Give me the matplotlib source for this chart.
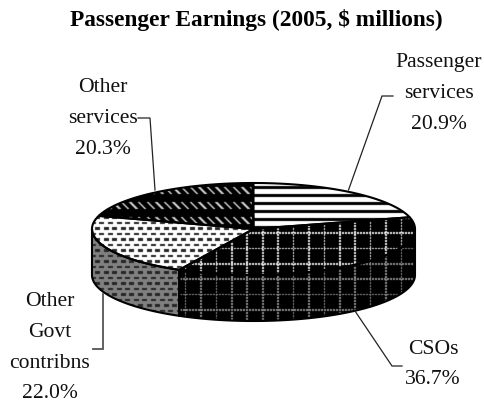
import numpy as np
import matplotlib
matplotlib.use("Agg")
import matplotlib.pyplot as plt
from matplotlib.patches import Polygon

TITLE = "Passenger Earnings (2005, $ millions)"
categories = ["Passenger services", "CSOs", "Other Govt contribns", "Other services"]
shares = [20.9, 36.7, 22.0, 20.3]
label_lines = [["Passenger", "services", "20.9%"],
               ["CSOs", "36.7%"],
               ["Other", "Govt", "contribns", "22.0%"],
               ["Other", "services", "20.3%"]]

W, H = 485, 403
CX, CY, RX, RY, DEPTH = 253.5, 229.0, 161.5, 46.0, 46.0
START = 90.0
yy, xx = np.mgrid[0:H, 0:W]


def soften(a):
    out = a * 0.52
    for ax_, sh in [(0, 1), (0, -1), (1, 1), (1, -1)]:
        out = out + np.roll(a, sh, axis=ax_) * 0.12
    return out


def stripes():
    return soften(np.where((yy - 186) % 8 < 3, 0.0, 1.0))


def grid(bright):
    a = np.zeros((H, W))
    v = ((xx - 246) % 15.4 < 1.6) & (yy % 3 < 2)
    h = ((yy - 232) % 15.3 < 1.6) & (xx % 3 < 2)
    a[v | h] = bright
    return soften(a)


def diag():
    a = np.zeros((H, W))
    row = (yy - 187) % 15
    shift = (xx - row) % 8.6
    a[(row < 7) & (shift < 2.4)] = 0.8
    return soften(a)


def dashes(bg, fg):
    a = np.full((H, W), bg)
    row = np.floor((yy - 216) / 5.5).astype(int)
    x = (xx + (row % 2) * 4.3) % 8.6
    a[(x < 5) & ((yy - 216) % 5.5 < 2.2)] = fg
    return soften(a)


top_patterns = [stripes(), grid(0.92), dashes(1.0, 0.15), diag()]
side_patterns = [None, grid(0.55), dashes(0.5, 0.15), None]

fig = plt.figure(figsize=(W / 100, H / 100), dpi=100, facecolor="white")
ax = fig.add_axes([0, 0, 1, 1])
ax.set_axis_off()


def arc(a0, a1, dy=0.0):
    t = np.radians(np.linspace(a0, a1, 80))
    return np.column_stack([CX + RX * np.cos(t), CY + dy - RY * np.sin(t)])


def fill(poly, pattern):
    patch = Polygon(poly, closed=True, fc="none", ec="black", lw=1.5, zorder=3)
    ax.add_patch(patch)
    im = ax.imshow(pattern, cmap="gray", vmin=0, vmax=1, extent=(0, W, H, 0),
                   interpolation="nearest", zorder=2, aspect="auto")
    im.set_clip_path(patch)


edges = START - np.concatenate([[0], np.cumsum(shares)]) * 3.6
for i, share in enumerate(shares):
    a0, a1 = edges[i], edges[i + 1]
    s0, s1 = min(a0, 0.0), max(a1, -180.0)
    if side_patterns[i] is not None and s0 > s1:
        fill(np.vstack([arc(s0, s1), arc(s1, s0, DEPTH)]), side_patterns[i])
for i, share in enumerate(shares):
    a0, a1 = edges[i], edges[i + 1]
    fill(np.vstack([[CX, CY], arc(a0, a1)]), top_patterns[i])

leaders = [([393, 382, 348.5], [96, 96, 190], "#222222", 0.9),
           ([402, 392, 355], [366, 366, 311], "#222222", 0.9),
           ([93, 103, 103], [349, 349, 294], "#555555", 1.3),
           ([138, 150, 155], [118, 118, 190], "#222222", 0.9)]
for lx, ly, c, lw in leaders:
    ax.plot(lx, ly, color=c, lw=lw, zorder=4, solid_joinstyle="miter")

serif = "Liberation Serif"
label_pos = [(439, 63), (433, 349), (50, 302), (103, 88)]
for lines, (lx, ly) in zip(label_lines, label_pos):
    for j, s in enumerate(lines):
        ax.text(lx, ly + j * 30.6, s, ha="center", va="center", family=serif,
                fontsize=15.6, color="#111111", zorder=5)
ax.text(256, 20, TITLE, ha="center", va="center", family=serif, fontsize=16.8,
        fontweight="bold", color="black", zorder=5)

ax.set_xlim(0, W)
ax.set_ylim(H, 0)
fig.savefig("out.png", dpi=100)
